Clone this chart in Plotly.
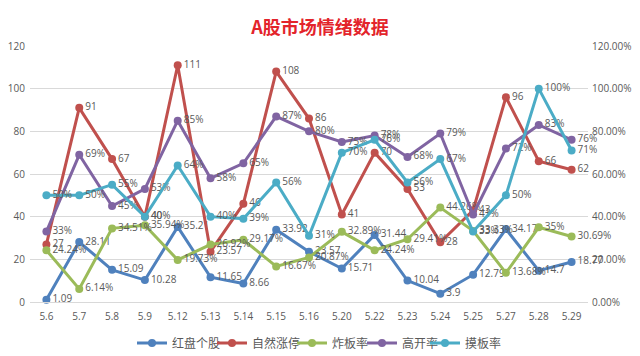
import plotly.graph_objects as go

categories = ["5.6", "5.7", "5.8", "5.9", "5.12", "5.13", "5.14", "5.15", "5.16",
              "5.20", "5.22", "5.23", "5.24", "5.25", "5.27", "5.28", "5.29"]
hongpan = [1.09, 28.11, 15.09, 10.28, 35.21, 11.65, 8.66, 33.92, 23.57, 15.71,
           31.44, 10.04, 3.9, 12.79, 34.17, 14.7, 18.77]
ziran = [27, 91, 67, 40, 111, 23.57, 46, 108, 86, 41, 70, 53, 28, 43, 96, 66, 62]
zhaban = [24.24, 6.14, 34.51, 35.94, 19.73, 26.92, 29.17, 16.67, 20.87, 32.89,
          24.24, 29.41, 44.26, 33.33, 13.68, 35, 30.69]
gaokai = [33, 69, 45, 53, 85, 58, 65, 87, 80, 75, 78, 68, 79, 41, 72, 83, 76]
moban = [50, 50, 55, 40, 64, 40, 39, 56, 31, 70, 76, 56, 67, 33, 50, 100, 71]

left_ticks = [0, 20, 40, 60, 80, 100, 120]
right_ticks = [0, 0.2, 0.4, 0.6, 0.8, 1.0, 1.2]
right_labels = ["0.00%", "20.00%", "40.00%", "60.00%", "80.00%", "100.00%", "120.00%"]

NUM = "Open Sans, DejaVu Sans, sans-serif"
CJK = "Noto Sans CJK SC, sans-serif"
GRAY = "#595959"
LBL = dict(family=NUM, size=10, color=GRAY)

W, H = 640, 356
ML, MR, MT, MB = 30, 52, 46, 54

series = [
    ("红盘个股", hongpan, "#4F81BD", "y", False),
    ("自然涨停", ziran, "#C0504D", "y", False),
    ("炸板率", zhaban, "#9BBB59", "y2", True),
    ("高开率", gaokai, "#8064A2", "y2", True),
    ("摸板率", moban, "#4BACC6", "y2", True),
]
# left pixel of each legend entry
legend_px = [132, 212, 292, 362, 425]

fig = go.Figure()
legends = {}
for i, (name, vals, color, axis, pct) in enumerate(series):
    if pct:
        yv = [v / 100 for v in vals]
        txt = [f"{v:g}%" for v in vals]
    else:
        yv = vals
        txt = [f"{v:g}" for v in vals]
    lname = "legend" if i == 0 else f"legend{i + 1}"
    fig.add_trace(go.Scatter(
        x=categories, y=yv, name=name, yaxis=axis, legend=lname, showlegend=True,
        mode="lines+markers+text", text=txt, textposition="middle right",
        textfont=LBL,
        line=dict(color=color, width=3),
        marker=dict(color=color, size=8),
        cliponaxis=False,
    ))
    legends[lname] = dict(
        orientation="h", xref="container", x=legend_px[i] / W, xanchor="left",
        yref="container", y=1 - 343 / H, yanchor="middle",
        font=dict(family=CJK, size=12, color=GRAY), itemwidth=30,
        bgcolor="rgba(0,0,0,0)",
    )

fig.update_layout(
    width=W, height=H, showlegend=True,
    margin=dict(l=ML, r=MR, t=MT, b=MB, autoexpand=False),
    paper_bgcolor="white", plot_bgcolor="white",
    title=dict(text="<b>A股市场情绪数据</b>", x=0.5, xanchor="center",
               y=1 - 27.5 / H, yanchor="middle",
               font=dict(family=CJK, size=18, color="#E3242B")),
    xaxis=dict(type="category", range=[-0.5, len(categories) - 0.5], autorange=False,
               showgrid=False, showline=True, linecolor="#D9D9D9",
               ticks="", automargin=False, ticklabelstandoff=5,
               tickfont=dict(family=NUM, size=10, color=GRAY)),
    yaxis=dict(range=[0, 120], tickvals=left_ticks, showgrid=True, gridcolor="#D9D9D9",
               zeroline=False, ticks="", automargin=False, ticklabelstandoff=4,
               tickfont=dict(family=NUM, size=10, color=GRAY)),
    yaxis2=dict(range=[0, 1.2], overlaying="y", side="right", tickvals=right_ticks,
                ticktext=right_labels, showgrid=False, zeroline=False, ticks="",
                automargin=False, ticklabelstandoff=3,
                tickfont=dict(family=NUM, size=10, color=GRAY)),
    **legends,
)

fig.write_html("out.html", config={"displayModeBar": False},
               post_script="document.body.style.margin='0';")
